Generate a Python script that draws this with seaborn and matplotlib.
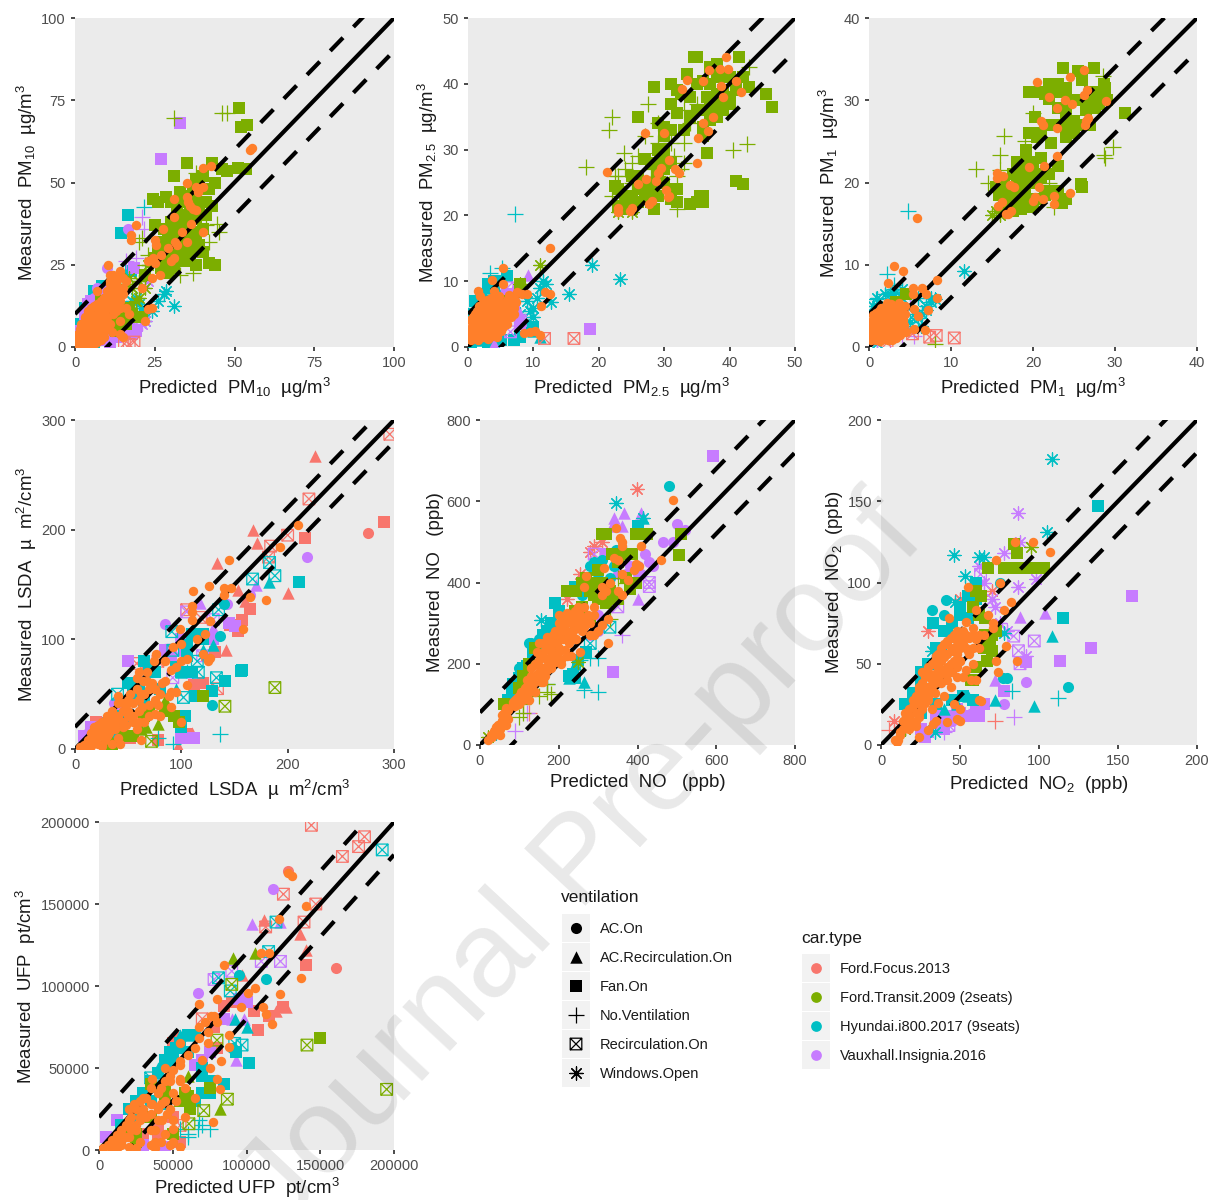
import matplotlib
matplotlib.use("Agg")
import matplotlib.pyplot as plt
import seaborn as sns
from matplotlib.patches import Rectangle
from matplotlib.path import Path

# car keys: R focus, T transit, C hyundai, V vauxhall. orange = highlighted points on top
car_labels = ["Ford.Focus.2013", "Ford.Transit.2009 (2seats)", "Hyundai.i800.2017 (9seats)", "Vauxhall.Insignia.2016"]
vent_labels = ["AC.On", "AC.Recirculation.On", "Fan.On", "No.Ventilation", "Recirculation.On", "Windows.Open"]

# ---- PM10
pm10_T_fan = [(51.5,72.5),(52,67),(54,67.5),(51,54.5),(53.5,54),(35,56),(43,56),(46,54),(47.5,53.5),(31,52),(38,51),(44,50),(42,48),(24.5,45),(26,44),(28.5,45.5),(30,44),(33,47),(35,46),(38,45),(41,44),(43,43),(25,37),(28,36),(30,38),(32,36),(34,37),(30,33),(33,31),(36,32),(39,31),(40,29),(30,28),(32,26),(34,26),(36,26),(38,25),(42,25.5),(44,25),(27,24),(29,22.5),(31,24),(28,30),(34,40),(36,41),(38,39),(40,36),(36,30),(12,12),(10,8),(15,9),(8,14),(7,10),(13,5),(14,10),(16,7),(17,12),(18,10),(15,12),(13,8),(20,9),(21,9),(9,6),(22,22),(25,27),(27,32),(29,35),(31,33),(33,40),(35,38),(37,35),(38,33),(26,30),(28,28),(30,36),(32,42),(34,44),(36,46),(39,42),(41,40),(37,30),(35,29),(33,28),(31,30),(29,26),(27,27),(35,35),(33,33),(39,48),(40,52),(37,49)]
pm10_T_plus = [(31,69.5),(46,71),(47.5,71),(44.5,37.5),(45,35),(42,32),(37,22.5),(23,28),(21,33),(20,32),(33,22),(37,28),(30,30),(26,27),(22,25),(40,41),(38,53),(41,37)]
pm10_T_ast = [(20,20),(17,21),(23,25),(19,14),(14,18),(16,19),(18,18),(13,16),(20,15),(22,18)]
pm10_C_plus = [(21.5,42.5),(9,18),(6,14)]
pm10_C_fan = [(16.5,40),(14.5,34.5),(17.5,23),(8.5,18.5),(6,14),(4,8),(5,10),(3,5),(2,3),(1,2),(0.5,3),(1,6),(2,7),(3,10),(4,12),(5,13),(7,16),(0.5,1),(2,1),(4,1),(6,1),(1,4),(3,12),(6,17)]
pm10_C_ast = [(31,12.5),(28,16),(28.5,17),(26,14),(20,13),(22,8),(19,15),(16,11),(5,2),(8,3),(3,1),(18,14),(17,9),(14,12),(12,7),(21,12),(24,11)]
pm10_C_tri = [(6,8),(3,4),(5,15),(3,7),(1,1.5),(2,5)]
pm10_V_plus = [(21,39.5),(21.5,36),(16,26),(19,27)]
pm10_V_fan = [(33,68),(27,57),(18.5,24),(7,14),(10,17),(2,5),(3,10),(4,13),(5,14),(9,2),(13,3),(16,6),(18,4),(11,1),(17,8),(19,5)]
pm10_V_ac = [(16.5,36),(10,24),(6,15),(4,9),(7,18)]
pm10_V_ast = [(21,7),(22,8),(18,6),(15,4),(23,20)]
pm10_R_box = [(15.5,1),(18.5,1.5),(17,0.8)]
pm10_orange = [(55.5,60.5),(55,60),(40,54.5),(42.5,55),(35,50),(38,48.5),(40,48.5),(38.5,47),(31,45),(35,45.5),(35.5,44),(36,43),(37,42),(38,41.5),(31,39.5),(19,37),(17.5,34),(17.5,32.5),(27.5,36),(25,32.5),(25.5,31),(33.5,35),(40,35),(36.5,37.5),(31.5,32),(32,31),(35,32),(29,30),(27,28),(24.5,27),(25,25.5),(23,26),(30,26),(31,27),(26.5,22),(24,21),(21,18),(10.5,25),(11,22),(14,22),(13,20),(11,19),(16,20),(13,18),(10,17),(15,16),(7,17),(9,15),(12,15),(14,14),(16,12),(11,12),(13,11),(24,12),(23,11.5),(22,8),(17,10),(14,8),(11.5,4.5),(14,4),(15,3),(1,1),(2,1.5),(3,2),(4,3),(5,4),(6,5),(7,6),(8,7),(9,8),(10,9),(2,4),(3,6),(4,7),(5,8),(6,9),(7,10),(4,1.5),(6,2),(7,3),(8,4),(9,5),(10,6),(11,7),(3,8),(4,10),(5,10),(8,11),(9,13),(10,14),(11,15),(12,10),(1,3),(0.5,0.5),(3,4),(5,6),(6,7),(8,9),(2,2.5),(4,5),(7,8),(9,10),(10,12),(12,13)]
pm10_orange_more = [(0.5,2),(1,4),(1.5,5.5),(2,7),(3,9),(4,11),(5,12),(6,12.5),(7,12),(8,12),(9,12),(1,0.5),(2,0.5),(3,0.5),(4,0.5),(5,1),(6,1),(7,1.5),(8,2),(9,3),(2,1),(3,1),(4,2),(5,2),(5,3),(6,3),(7,4),(8,5),(8,6),(9,6),(9,7),(10,7.5),(6,4),(4,4),(3,3),(2,3),(1,1.5),(1.5,2.5),(2.5,5),(3.5,5),(4.5,6),(5.5,7),(6.5,8),(7.5,9),(8.5,10),(9.5,11),(7,13),(8,14),(9,15),(10,15),(11,14),(12,14),(13,13),(13,15),(14,16),(12,16),(10,13),(11,13),(9,11),(11,17),(12,18),(13,19),(15,21),(14,23),(11,20),(12,22),(15,18),(14,12)]

# ---- PM2.5
pm25_T_fan = [(35,44),(34.5,44),(41.5,44),(38,43),(37,42.5),(33.5,41.5),(28.5,39.5),(31,40),(32,39),(32.5,38.5),(36,40.5),(36.5,38),(38,38.5),(39,41),(40,41),(41,40),(42,41),(43,39.5),(45.5,38.5),(46.5,36.5),(39,39),(40,38),(39,37),(37.5,36),(38,35),(37,34.5),(36,33.5),(31,37),(32,35.5),(26,35),(29,34),(30,33.5),(31,33),(36,32),(36.5,29.5),(27,28.5),(28,28),(30,30),(26,26),(27,25),(22.5,24.5),(23,24),(28,24),(29,23),(27.5,23),(32,22),(34,21.8),(35,22),(35.5,23),(36,23),(36,22),(28.5,21),(41,25.2),(42,24.8),(24,23),(25,22),(31,22.5),(8,9.5),(6,7),(26,24),(27,24),(28,25),(29,26),(30,27),(30,25),(31,28),(29,28),(25,26),(33,33),(34,35),(35,36),(36,36),(37,37),(38,37),(39,36),(40,37),(41,39),(34,38),(35,40),(37,40),(38,41),(25,23),(26,22),(27,22.5),(28,22),(24,21),(23,21.5),(25,21),(31,24),(32,24),(30,32),(29,30)]
pm25_T_plus = [(22,35),(21.5,33),(27.5,37),(18,27.3),(23.8,29.5),(24,27),(22.5,26),(23,24.5),(40.5,30),(42.7,30.8),(29,34),(33,31),(32.5,27),(32,26),(32,21),(34,34),(29,31),(43,42.5),(31.5,29),(23,26),(25,25),(26,29),(28,27),(30,29),(33,28),(31,31),(29,26),(22,23),(24,22),(33,36),(35,37),(27,32),(25,28)]
pm25_T_ast = [(11,12.5),(23,20.5),(25,20.5),(29,29.5),(8,9.5)]
pm25_C_plus = [(7.2,20.2),(3.3,11.2),(5.2,12),(2,5),(1,6)]
pm25_C_ast = [(19,12.4),(23.3,10.3),(15.5,8),(12.7,6.8),(11.5,10),(12,9.5),(10,6),(9.5,5.5),(10,4.5),(8,5),(9,7),(11,9),(10.5,7.5),(8.5,3.5)]
pm25_C_fan = [(6,10.8),(3,7),(4,9),(1,5),(2,4),(1,7),(2,8),(3,9.5),(4,10),(0.5,5),(1,3),(2,6),(5,10),(0.5,0.5),(5,1),(7,1),(3,0.5),(8,1.5),(10,3)]
pm25_C_tri = [(3,9),(5,8),(11,1.5),(9,3),(1,1.5),(2,1),(10,2.5),(5.5,9),(4,0.8)]
pm25_V_tri = [(9.2,11),(6,7),(8,5),(7,9),(4,0.5)]
pm25_V_fan = [(18.7,2.8),(6,8),(7,6),(8,3.5)]
pm25_V_box = [(6.5,2.3),(8,4),(6,9)]
pm25_R_box = [(11.7,1.3),(16.2,1.3)]
pm25_orange = [(39.5,44),(38.5,42.3),(39.7,42.2),(36.8,42.1),(33.5,40.6),(32.7,39.2),(36,40.5),(41,40.5),(38.7,39.7),(39,38),(41.7,38.7),(37.5,34.9),(36,34),(35.2,31.7),(36.7,32.9),(35,28),(27,32.5),(30,32.5),(21.3,26.6),(30.8,28.4),(29.5,27.2),(29,26.5),(27.2,25.5),(28.8,25.2),(26,24.7),(31.7,27),(32.3,26.5),(30.2,23.8),(30.8,23),(30.6,22.8),(28.2,22.2),(27.7,21.7),(23,21.2),(23,20.5),(25,21.2),(24.7,20.7),(12.5,15),(5.3,12),(3.7,10.2),(5.3,9.5),(1.5,8.5),(8.2,8),(11.7,8.4),(12.5,8),(11.2,6.2),(9,8),(7.5,8.3),(7,7.5),(6,7.2),(4,8.5),(3.5,7.5),(4.5,7),(2.5,6),(1,5),(3,5.5),(5,6),(6.5,5.8),(7,5),(5.5,4.8),(4,4.8),(2,4.5),(1,3.8),(3,3.8),(5,4),(6,3.5),(4,3),(2.5,3),(1,2.8),(0.5,2.2),(2,2),(3.5,2),(5,2.5),(4.5,1.5),(3,1.2),(1.5,1),(0.5,1),(8.5,2.2),(9.5,2.3),(10.3,2.4),(11,1.8),(6.5,4.5),(3,6.8),(1.8,7.8),(4.5,5.5),(2,3.5),(3.5,4.3),(5,3.2)]
pm25_orange_more = [(0.3,1.2),(0.4,2.9),(0.3,4.1),(0.8,1.6),(0.9,3.3),(0.7,4.6),(1.3,1.4),(1.4,2.4),(1.2,3.2),(1.3,4.4),(1.4,5.4),(1.8,1.6),(1.7,2.8),(1.9,3.9),(1.8,5.1),(1.7,6.2),(2.3,1.5),(2.4,2.6),(2.2,3.6),(2.3,4.6),(2.5,5.6),(2.3,6.7),(2.9,1.8),(2.8,2.7),(3,3.4),(2.8,4.5),(3,6.1),(2.9,7.2),(3.4,1.5),(3.5,2.7),(3.3,3.3),(3.4,5),(3.5,6.3),(3.9,2.4),(3.8,3.6),(4,4.2),(3.9,5.6),(4,6.6),(4.4,2.5),(4.3,3.7),(4.5,4.4),(4.4,6),(4.7,7.8),(4.9,3.5),(4.8,5),(4.9,6.7),(5.4,3),(5.3,4.3),(5.5,5.5),(5.4,6.5),(5.8,4.2),(5.9,5.2),(6.1,6.4),(6.4,5),(6.6,6.7),(7,6),(7.3,6.9),(6.2,7.9)]

# ---- PM1
pm1_T_fan = [(23.7,33.9),(25.5,33.5),(26,33),(27.4,33.9),(23,32),(24,31.5),(26,32.5),(28.7,32),(28.8,31.5),(19.5,31),(20.5,31),(21.5,30.8),(22,30.2),(24,31),(25,30),(27,31),(28,29.5),(27.5,29),(26.5,28.8),(24,28.5),(25,27.5),(26,27),(31.2,28.5),(20.3,28),(19.5,26),(20.5,25.5),(19.2,24),(24,25.5),(22.2,24.8),(23,22),(18,22.5),(19.5,22.5),(15.5,19.5),(16.5,20),(17.5,21),(18.5,20.5),(19,21),(17,19),(18,18.5),(19,17),(18.5,16.8),(20.5,18),(21.5,18.5),(23,18),(23.5,17.5),(25.8,19.8),(26,19.5),(17,17.5),(4.5,6.5),(3.3,5.5),(16,19),(15.8,18.5),(16.5,18),(17.5,18),(18,20),(19,19.5),(20,20),(21,20.5),(20,22),(20.5,21),(22,21),(21,23),(24,29),(25,30),(26,30),(27,30),(23,29),(24,27),(27,27),(25,26),(21,26),(22,27),(23,27),(26,33),(22,32),(23,31),(22.5,31.5),(28,31),(29,30),(16.5,17),(17.5,16.5),(19,18),(20,17),(22,19),(24,18),(23,19)]
pm1_T_plus = [(13,21.7),(16.5,25.7),(16,23.4),(14.5,20),(19,25),(20,28.5),(29.8,24.3),(28.7,23.3),(28.8,23),(28.5,33),(22.5,17),(22,20),(16,21.5),(8,0.4)]
pm1_T_ast = [(15,16),(15.5,16.5),(16,16)]
pm1_C_plus = [(4.8,16.5),(2.2,8.9),(0.8,5.8),(3,7.5)]
pm1_C_ast = [(11.6,9.3),(8,5.8),(7.5,5.5),(2.5,6.5),(3,6.5),(1,5),(6,3.5),(6.3,2.5),(7,5),(5.5,4),(4,7),(0.5,5),(1,6),(2,6.5),(3,7),(4,6),(5,6.5),(6,6),(1,0.5),(3,5),(7,4.5),(6.5,4),(7.5,6),(5,3),(4.5,2.5)]
pm1_R_box = [(10.4,1.1),(7.4,1.2),(8.2,1.4),(5.3,1.6),(2.2,0.5)]
pm1_V_plus = [(1,0.7),(4,1.5),(2.5,0.8),(5.5,1.3),(4,2),(5,6)]
pm1_orange = [(20.5,32.2),(24.5,32.8),(26.2,33.7),(22,30.4),(26.6,31.2),(26.2,30.6),(23.9,30),(24.8,29.5),(28.9,29.9),(22.9,29),(21,27.5),(21.2,27),(22.9,26.6),(26.5,27.5),(26.3,27),(26.7,27.8),(22.9,23.2),(19.5,21.9),(21.3,22),(15.6,21.2),(15.6,20.6),(16.3,20.8),(17.2,19.7),(17.7,19.4),(20.7,19.5),(20.2,18.2),(20,17.7),(21.2,18),(22.6,18.4),(22.6,17.4),(24.5,18.7),(15.7,17.2),(16.2,17.6),(16.7,16.2),(17,16.2),(17.3,16.5),(5.9,15.7),(3,9.8),(4.1,9.2),(2.3,7.8),(8.3,8.1),(5.4,7.2),(6.5,7.2),(5.4,6.4),(6.9,6.4),(8.3,6),(7.2,4.5),(5.5,4.6),(6,3.8),(5.5,2.2),(6.8,2.1),(2.2,5.4),(3,5),(4.4,5),(1.2,4.4),(2,4.2),(3,4),(4,4.2),(0.8,3.6),(1.6,3.4),(2.4,3.4),(3.2,3.2),(4.2,3.3),(0.5,2.8),(1.2,2.6),(2,2.6),(2.8,2.5),(3.6,2.4),(0.4,2),(1,1.8),(1.8,1.8),(2.6,1.7),(3.3,1.6),(0.5,1.2),(1.2,1),(2,1),(2.8,0.9),(3.6,2),(4.5,1.8)]
pm1_orange_more = [(0.3,0.8),(0.3,1.6),(0.3,2.4),(0.4,3.2),(0.5,3.9),(0.9,0.9),(0.8,1.4),(0.9,2.2),(0.8,3),(0.9,4.1),(1.4,0.7),(1.3,1.5),(1.4,2.1),(1.3,3),(1.4,3.8),(1.5,4.7),(1.9,1.4),(1.8,2.2),(1.9,3),(1.8,3.8),(2,4.7),(2.3,0.8),(2.4,1.4),(2.3,2.2),(2.4,3),(2.3,3.8),(2.5,4.5),(2.9,1.3),(2.8,2),(2.9,2.9),(2.8,3.6),(2.9,4.4),(3.3,1.1),(3.4,2.1),(3.3,2.8),(3.4,3.6),(3.5,4.5),(3.8,1.5),(3.9,2.7),(3.8,3.7),(3.9,4.7),(4.3,2.7),(4.4,4),(2.7,5.2),(3.6,5.4)]

# ---- LSDA
lsda_R_fan = [(291,207),(216,192),(165,128),(157,118),(153,108),(146,113),(105,14),(52,10),(78,8),(120,60),(112,58),(124,85),(132,88),(125,100),(100,15),(20,25),(30,5)]
lsda_R_tri = [(226,267),(167,200),(171,188),(134,170),(153,145),(200,142),(142,90),(110,15),(97,3),(160,135)]
lsda_R_box = [(296,287),(220,228),(200,195),(184,185),(182,175),(105,127),(118,120),(58,78),(134,55),(78,80)]
lsda_R_ac = [(276,197)]
lsda_V_ac = [(218,175),(143,132),(85,114),(165,140),(40,40),(12,15),(37,42),(90,88)]
lsda_V_fan = [(100,10),(108,10),(112,10),(145,115),(150,112),(15,15),(50,80),(100,100),(90,85),(105,90),(130,100),(85,90),(15,20),(10,10),(8,12)]
lsda_V_box = [(105,125),(130,118),(92,65),(120,85),(90,90),(60,60)]
lsda_V_tri = [(118,133),(170,150),(100,90),(110,70),(130,110)]
lsda_C_fan = [(211,152),(156,71),(157,72),(141,62),(129,53),(113,48),(103,30),(100,20),(65,80),(120,105),(40,30),(20,15),(70,75),(75,70),(60,60),(100,70),(110,70),(95,75),(105,95),(110,105),(115,105),(120,100),(50,60),(55,50),(65,45),(80,55),(45,30),(35,15),(105,85)]
lsda_C_box = [(167,155),(188,158),(183,170),(135,127),(133,65),(102,47),(92,90),(115,80),(116,70),(40,50),(91,107)]
lsda_C_ac = [(129,40),(136,103),(140,132),(60,55)]
lsda_C_tri = [(182,152),(130,95),(120,90),(105,72),(95,55),(100,70),(50,35)]
lsda_C_plus = [(136,14),(92,5),(78,10)]
lsda_T_box = [(188,56),(141,39),(72,7)]
lsda_T_fan = [(120,48),(93,30),(98,25),(35,5),(46,12),(55,12),(30,10),(65,30),(70,35),(85,35)]
lsda_T_tri = [(78,23),(67,20),(62,18),(85,45)]
lsda_orange = [(210,204),(193,184),(145,172),(111,144),(126,149),(140,147),(147,147),(140,140),(180,136),(165,139),(110,130),(110,125),(110,118),(127,117),(122,105),(115,100),(99,109),(100,96),(92,93),(158,109),(120,87),(125,80),(127,83),(76,87),(74,80),(85,80),(95,75),(100,80),(105,82),(90,72),(60,70),(58,65),(68,70),(64,62),(72,60),(82,60),(105,58),(90,52),(95,52),(62,50),(50,45),(40,48),(55,42),(63,38),(75,45),(78,40),(90,38),(80,30),(70,30),(60,35),(50,30),(45,35),(35,30),(40,28),(30,25),(25,20),(35,20),(32,15),(25,12),(20,10),(28,8),(18,6),(15,3),(25,3),(35,5),(40,10),(45,20),(55,25),(65,25),(100,25),(62,8),(42,5),(20,18),(30,18),(38,22),(48,22),(58,18)]
lsda_orange_more = [(10,3),(15,8),(20,14),(25,18),(30,22),(35,25),(40,30),(22,5),(30,12),(38,18),(45,25),(50,35),(55,30),(60,45),(65,50),(70,55),(70,40),(60,25),(45,42),(52,50),(30,30),(25,25),(35,35),(40,42),(48,40),(58,55),(68,62),(75,55),(85,62),(80,50),(75,32),(88,48),(15,15),(18,20),(12,8),(8,4),(5,2),(22,22)]

# ---- NO
no_T_fan = [(310,520),(320,520),(395,520),(405,520),(415,520),(425,520),(510,520),(505,468),(335,470),(340,470),(350,470),(360,470),(375,470),(385,470),(225,378),(245,378),(270,410),(280,400),(290,370),(300,360),(340,370),(380,385),(100,140),(60,100),(300,430),(310,400),(260,400),(280,380),(320,350),(330,380),(350,360),(370,410),(350,450),(395,400),(220,380),(240,330),(260,340),(280,310),(140,240),(125,200),(110,170)]
no_C_ac = [(480,638),(310,455),(360,480),(130,250),(125,250),(150,260),(340,440),(100,190),(120,200),(280,440),(330,410),(300,420),(260,370),(290,450),(345,480)]
no_V_ac = [(500,545),(520,530),(465,500),(490,500),(430,450),(440,440),(400,440),(410,420),(510,520),(300,280),(400,420),(420,470),(380,440),(330,380),(300,320),(310,300),(280,270),(290,280),(370,420),(320,360),(350,420)]
no_V_tri = [(340,560),(365,570),(335,540),(410,570),(400,360),(360,540)]
no_C_tri = [(265,155),(225,165),(415,560),(240,200)]
no_C_ast = [(345,595),(415,560),(155,308),(40,30)]
no_R_ast = [(398,630),(280,475),(290,490),(310,500),(255,420),(220,360)]
no_C_fan = [(190,350),(240,390),(400,540),(90,150),(80,120),(150,240),(70,110),(80,130),(85,150),(100,165),(110,190),(120,195),(135,230),(160,270),(170,280),(200,330),(180,300),(225,170),(235,175),(240,165),(250,210),(270,230)]
no_V_fan = [(592,712),(337,179),(320,470)]
no_V_plus = [(360,270),(90,35),(120,80)]
no_C_plus = [(300,130),(265,135),(300,215),(280,215),(255,210),(170,150)]
no_T_plus = [(170,130),(180,125),(110,80),(350,410),(370,400),(380,405),(330,310),(170,150),(150,120),(110,100),(100,70)]
no_R_plus = [(125,80)]
no_V_box = [(430,400),(430,390),(350,340),(290,470)]
no_C_box = [(330,290),(280,250)]
no_T_ast = [(250,205),(20,20)]
no_orange = [(490,602),(460,455),(345,535),(360,500),(355,510),(360,490),(410,490),(405,440),(395,445),(390,430),(350,455),(340,460),(315,435),(310,390),(360,420),(375,405),(270,415),(320,380),(265,390),(310,370),(330,400),(350,380),(360,370),(310,295),(290,340),(260,310),(240,330),(200,320),(210,310),(325,310),(300,280),(290,270),(325,250),(255,230),(20,12),(28,25),(35,30),(40,45),(48,50),(55,60),(60,72),(50,42),(65,50),(70,85),(90,110),(100,120),(85,105),(110,130),(120,160),(125,110),(135,165),(130,190),(145,200),(150,175),(155,220),(165,235),(170,185),(180,220),(185,250),(190,205),(200,240),(210,280),(215,235),(225,270),(230,300),(240,260),(250,290),(140,130),(160,155),(175,200),(195,270),(205,210),(220,220),(235,320),(250,325),(265,290),(280,300),(115,140),(150,250),(170,265)]
no_orange_more = [(30,20),(35,35),(40,30),(45,50),(50,40),(55,60),(60,55),(65,75),(60,80),(70,65),(50,25),(45,35),(55,75),(65,90),(85,100),(90,95),(95,115),(100,100),(105,130),(110,110),(115,125),(120,145),(125,130),(130,170),(135,150),(140,200),(140,170),(145,230),(150,210),(150,180),(155,155),(160,250),(160,220),(160,190),(165,170),(170,240),(170,210),(175,260),(180,235),(180,190),(185,270),(190,280),(190,220),(195,250),(200,300),(200,230),(205,290),(205,200),(210,260),(215,300),(220,325),(220,280),(225,250),(230,310),(230,220),(235,280),(240,310),(245,260),(250,340),(250,300),(255,320),(260,280),(265,340),(270,300),(275,320),(280,270),(290,320)]

# ---- NO2
no2_C_ast = [(108,176),(105,131),(46,117),(62,116),(65,116),(53,104),(47,88),(78,69),(32,58),(34,8)]
no2_V_ast = [(87,143),(88,125),(98,102),(87,97),(78,118),(92,55),(65,100),(72,85),(70,90),(75,75),(80,70),(62,110)]
no2_T_ast = [(95,122),(15,10)]
no2_R_ast = [(15,10),(8,15),(30,70),(50,90),(70,95)]
no2_C_fan = [(137.5,147),(115,78),(33,75),(60,90),(38,60),(25,45),(50,80),(42,70),(15,25),(20,32),(25,40),(30,50),(35,60),(40,70),(45,75),(50,85),(55,92),(60,100),(55,78),(25,20),(35,25),(45,28),(52,30),(58,28)]
no2_V_fan = [(159,92),(133,60),(113,52),(92,51),(78,33),(28,5),(40,10),(60,25),(35,18),(40,15),(45,18),(50,20),(55,18),(60,22),(38,12),(30,8),(25,10),(62,18),(48,22),(65,25)]
no2_C_ac = [(32,83),(40,80),(41,89),(118.5,36),(80,41),(77,41),(58,98),(75,100)]
no2_V_ac = [(92,39),(78,25),(55,18),(60,20),(45,15)]
no2_C_tri = [(97,24),(108,67),(72,28),(55,30),(20,30),(40,22),(25,42),(48,25)]
no2_V_tri = [(88,79),(104,81),(72,40)]
no2_V_box = [(63,105),(84,67),(87,58),(97,64),(88,50),(43,12)]
no2_V_plus = [(84,17),(40,8),(60,22)]
no2_C_plus = [(112,29),(83,33)]
no2_R_plus = [(72,15),(5,9)]
no2_T_fan = [(68,109),(78,109),(82,109),(86,109),(90,109),(94,109),(100,109),(103,109),(84,124),(86,118),(60,95),(63,92),(58,85),(62,80),(66,78),(70,68),(69,65),(57,40),(67,52),(73,70),(65,60),(70,58),(66,68),(60,48),(58,40)]
no2_orange = [(107,119),(85,125),(96,125),(73,114),(75,100),(55,97),(60,83),(82,88),(78,83),(68,80),(71,75),(71,72),(73,52),(74,45),(57,40),(86,52),(79,61),(50,15),(33,13),(43,78),(54,76),(58,72),(48,70),(52,65),(60,65),(65,68),(42,62),(46,60),(55,58),(62,60),(38,58),(35,55),(50,52),(44,50),(58,50),(30,48),(36,46),(42,44),(48,42),(54,46),(26,45),(32,40),(38,38),(44,36),(28,36),(34,32),(40,30),(24,34),(30,28),(36,26),(20,28),(26,24),(32,22),(18,22),(24,20),(16,18),(22,15),(14,15),(19,12),(12,8),(10,2),(11,3),(24,5),(30,9),(35,15),(42,14),(48,16),(46,25),(50,22),(62,28),(63,27),(45,45),(52,42),(60,40)]
no2_orange_more = [(9,3),(12,6),(14,10),(16,14),(15,20),(18,10),(18,18),(20,24),(20,14),(22,30),(22,20),(22,12),(24,36),(24,26),(24,17),(26,38),(26,30),(26,22),(28,42),(28,34),(28,26),(30,45),(30,36),(30,30),(32,50),(32,42),(32,34),(34,44),(34,52),(34,38),(36,56),(36,48),(36,40),(38,60),(38,52),(38,44),(40,62),(40,54),(40,46),(42,64),(42,56),(42,48),(42,40),(44,66),(44,58),(44,50),(46,60),(46,68),(46,52),(48,64),(48,56),(48,48),(50,68),(50,60),(50,52),(52,70),(52,62),(54,68),(54,60),(56,66),(56,56),(58,68),(58,60),(60,66),(62,68)]

# ---- UFP
ufp_R_box = [(144000,198000),(180000,191000),(176000,185000),(165000,179000),(125000,156000),(147000,150000),(139000,139000),(113000,136000),(70000,80000),(55000,15000)]
ufp_C_box = [(192000,183000),(120000,139000),(115000,121000),(89000,97000),(97000,64000),(92000,65000),(44000,44000),(35000,44000),(81000,105000)]
ufp_V_box = [(123000,115000),(110000,115000),(78000,104000),(90000,109000)]
ufp_T_box = [(195000,37000),(141000,64000),(87000,31000),(71000,24000),(61000,16000),(90000,101000),(80000,67000)]
ufp_T_fan = [(150000,68000),(62000,25000),(58000,35000),(50000,10000),(45000,38000),(25000,10000),(35000,40000),(45000,32000),(55000,30000),(60000,33000),(62000,28000),(75000,38000),(30000,20000),(20000,10000),(35000,20000),(25000,5000)]
ufp_R_fan = [(140000,113000),(108000,73000),(115000,82000),(125000,87000),(78000,75000),(40000,10000),(50000,65000),(55000,68000),(62000,70000),(80000,62000),(90000,90000),(85000,88000),(105000,85000),(30000,10000),(50000,20000),(55000,5000),(40000,15000)]
ufp_R_tri = [(112000,140000),(120000,85000),(127000,87000),(136000,132000),(140000,122000),(97000,107000)]
ufp_V_fan = [(75000,60000),(70000,55000),(65000,52000),(95000,92000),(100000,90000),(85000,80000),(12000,18000),(5000,8000),(30000,3000),(45000,2000)]
ufp_V_tri = [(104000,138000),(123000,139000),(93000,55000),(98000,80000),(90000,80000)]
ufp_T_tri = [(91000,117000),(106000,120000),(82000,25000),(60000,45000)]
ufp_C_tri = [(100000,75000),(55000,70000),(60000,70000),(92000,80000),(40000,50000)]
ufp_C_fan = [(102000,53000),(93000,60000),(70000,45000),(75000,35000),(45000,55000),(50000,60000),(35000,30000),(28000,20000),(15000,15000),(20000,25000),(25000,30000),(30000,35000),(35000,42000),(40000,47000),(45000,52000),(48000,60000),(52000,62000),(55000,65000),(60000,70000),(65000,70000),(50000,55000),(60000,60000),(70000,50000),(75000,42000),(70000,35000),(65000,30000),(55000,30000),(45000,28000),(85000,40000)]
ufp_R_ac = [(161000,111000),(128000,170000)]
ufp_V_ac = [(118000,159000),(67000,96000)]
ufp_C_ac = [(113000,104000),(95000,107000),(90000,62000)]
ufp_C_plus = [(67000,13000),(60000,10000),(70000,15000),(60000,8000),(55000,13000),(68000,18000),(75000,13000)]
ufp_orange = [(128000,169000),(131000,167000),(122000,141000),(140000,149000),(137000,105000),(123000,95000),(110000,120000),(115000,120000),(85000,113000),(68000,89000),(96000,87000),(80000,92000),(101000,96000),(106000,99000),(111000,87000),(113000,83000),(117000,77000),(76000,82000),(80000,78000),(68000,75000),(74000,72000),(88000,70000),(74000,65000),(55000,65000),(88000,63000),(83000,54000),(55000,54000),(50000,49000),(45000,50000),(80000,43000),(82000,37000),(55000,43000),(48000,42000),(77000,17000),(50000,13000),(35000,38000),(45000,42000),(40000,35000),(30000,32000),(35000,28000),(45000,30000),(52000,30000),(25000,25000),(30000,25000),(40000,25000),(48000,25000),(22000,20000),(28000,18000),(35000,12000),(38000,12000),(20000,14000),(25000,12000),(15000,10000),(20000,8000),(28000,5000),(35000,3000),(42000,5000),(48000,3000),(10000,5000),(15000,3000),(20000,2000),(8000,2000),(12000,1000),(25000,1000),(38000,1000),(58000,20000),(65000,32000),(75000,50000),(70000,55000),(32000,20000),(43000,18000)]
ufp_orange_more = [(3000,1000),(6000,3000),(9000,6000),(12000,9000),(15000,12000),(18000,15000),(20000,18000),(8000,1000),(12000,2000),(15000,5000),(18000,8000),(22000,12000),(25000,15000),(28000,20000),(20000,25000),(24000,28000),(28000,30000),(32000,32000),(30000,22000),(36000,28000),(42000,28000),(46000,22000),(50000,18000),(35000,22000),(40000,18000),(45000,10000),(50000,5000),(38000,5000),(55000,2000),(36000,43000),(42000,38000),(48000,45000),(55000,42000),(58000,38000),(50000,35000),(55000,52000),(60000,58000),(65000,62000),(68000,68000),(72000,78000),(78000,82000)]

panels = [
    dict(pos=(75, 18, 394, 347), lim=100, band=10, ticks=[0, 25, 50, 75, 100],
         xlabel="Predicted  PM$_{10}$  µg/m$^3$", ylabel="Measured  PM$_{10}$  µg/m$^3$",
         groups=[("C", "ast", pm10_C_ast), ("C", "tri", pm10_C_tri), ("C", "plus", pm10_C_plus), ("C", "fan", pm10_C_fan),
                 ("V", "plus", pm10_V_plus), ("V", "ast", pm10_V_ast), ("V", "ac", pm10_V_ac), ("V", "fan", pm10_V_fan),
                 ("R", "box", pm10_R_box), ("T", "ast", pm10_T_ast), ("T", "plus", pm10_T_plus), ("T", "fan", pm10_T_fan)],
         orange=pm10_orange + pm10_orange_more),
    dict(pos=(468, 18, 795, 347), lim=50, band=5, ticks=[0, 10, 20, 30, 40, 50],
         xlabel="Predicted  PM$_{2.5}$  µg/m$^3$", ylabel="Measured  PM$_{2.5}$  µg/m$^3$",
         groups=[("C", "ast", pm25_C_ast), ("C", "tri", pm25_C_tri), ("C", "plus", pm25_C_plus), ("C", "fan", pm25_C_fan),
                 ("V", "tri", pm25_V_tri), ("V", "fan", pm25_V_fan), ("V", "box", pm25_V_box), ("R", "box", pm25_R_box),
                 ("T", "ast", pm25_T_ast), ("T", "plus", pm25_T_plus), ("T", "fan", pm25_T_fan)],
         orange=pm25_orange + pm25_orange_more),
    dict(pos=(869, 18, 1197, 347), lim=40, band=4, ticks=[0, 10, 20, 30, 40],
         xlabel="Predicted  PM$_1$  µg/m$^3$", ylabel="Measured  PM$_1$  µg/m$^3$",
         groups=[("C", "ast", pm1_C_ast), ("C", "plus", pm1_C_plus), ("V", "plus", pm1_V_plus), ("R", "box", pm1_R_box),
                 ("T", "ast", pm1_T_ast), ("T", "plus", pm1_T_plus), ("T", "fan", pm1_T_fan)],
         orange=pm1_orange + pm1_orange_more),
    dict(pos=(75, 420, 394, 749), lim=300, band=20, ticks=[0, 100, 200, 300],
         xlabel="Predicted  LSDA  µ  m$^2$/cm$^3$", ylabel="Measured  LSDA  µ  m$^2$/cm$^3$",
         groups=[("R", "fan", lsda_R_fan), ("R", "tri", lsda_R_tri), ("R", "ac", lsda_R_ac), ("R", "box", lsda_R_box),
                 ("V", "ac", lsda_V_ac), ("V", "fan", lsda_V_fan), ("V", "box", lsda_V_box), ("V", "tri", lsda_V_tri),
                 ("C", "fan", lsda_C_fan), ("C", "ac", lsda_C_ac), ("C", "tri", lsda_C_tri), ("C", "box", lsda_C_box),
                 ("C", "plus", lsda_C_plus), ("T", "box", lsda_T_box), ("T", "fan", lsda_T_fan), ("T", "tri", lsda_T_tri)],
         orange=lsda_orange + lsda_orange_more),
    dict(pos=(480, 420, 795, 745), lim=800, band=80, ticks=[0, 200, 400, 600, 800],
         xlabel="Predicted  NO   (ppb)", ylabel="Measured  NO   (ppb)",
         groups=[("R", "ast", no_R_ast), ("R", "plus", no_R_plus), ("V", "ac", no_V_ac), ("V", "tri", no_V_tri),
                 ("V", "fan", no_V_fan), ("V", "plus", no_V_plus), ("V", "box", no_V_box), ("C", "ac", no_C_ac),
                 ("C", "tri", no_C_tri), ("C", "ast", no_C_ast), ("C", "fan", no_C_fan), ("C", "plus", no_C_plus),
                 ("C", "box", no_C_box), ("T", "plus", no_T_plus), ("T", "ast", no_T_ast), ("T", "fan", no_T_fan)],
         orange=no_orange + no_orange_more),
    dict(pos=(881, 420, 1197, 745), lim=200, band=20, ticks=[0, 50, 100, 150, 200],
         xlabel="Predicted  NO$_2$  (ppb)", ylabel="Measured  NO$_2$  (ppb)",
         groups=[("R", "plus", no2_R_plus), ("R", "ast", no2_R_ast), ("V", "ast", no2_V_ast), ("V", "fan", no2_V_fan),
                 ("V", "ac", no2_V_ac), ("V", "tri", no2_V_tri), ("V", "box", no2_V_box), ("V", "plus", no2_V_plus),
                 ("C", "ast", no2_C_ast), ("C", "fan", no2_C_fan), ("C", "ac", no2_C_ac), ("C", "tri", no2_C_tri),
                 ("C", "plus", no2_C_plus), ("T", "ast", no2_T_ast), ("T", "fan", no2_T_fan)],
         orange=no2_orange + no2_orange_more),
    dict(pos=(99, 822, 394, 1150), lim=200000, band=20000, ticks=[0, 50000, 100000, 150000, 200000],
         xlabel="Predicted UFP  pt/cm$^3$", ylabel="Measured  UFP  pt/cm$^3$",
         groups=[("R", "box", ufp_R_box), ("R", "fan", ufp_R_fan), ("R", "tri", ufp_R_tri), ("R", "ac", ufp_R_ac),
                 ("V", "box", ufp_V_box), ("V", "fan", ufp_V_fan), ("V", "tri", ufp_V_tri), ("V", "ac", ufp_V_ac),
                 ("C", "fan", ufp_C_fan), ("C", "tri", ufp_C_tri), ("C", "ac", ufp_C_ac), ("C", "box", ufp_C_box),
                 ("C", "plus", ufp_C_plus), ("T", "fan", ufp_T_fan), ("T", "tri", ufp_T_tri), ("T", "box", ufp_T_box)],
         orange=ufp_orange + ufp_orange_more, xpad=2),
]

sns.set_theme(style="ticks", rc={
    "axes.facecolor": "#EBEBEB",
    "axes.spines.left": False, "axes.spines.right": False,
    "axes.spines.top": False, "axes.spines.bottom": False,
    "xtick.color": "#333333", "ytick.color": "#333333",
    "xtick.labelcolor": "#4D4D4D", "ytick.labelcolor": "#4D4D4D",
    "xtick.major.size": 3, "ytick.major.size": 3,
    "xtick.labelsize": 10.5, "ytick.labelsize": 10.5,
    "axes.labelsize": 13.4, "axes.labelcolor": "#1A1A1A",
})
plt.rcParams["font.family"] = ["Liberation Sans", "DejaVu Sans"]
plt.rcParams["mathtext.fontset"] = "custom"
plt.rcParams["mathtext.rm"] = "Liberation Sans"
plt.rcParams["mathtext.default"] = "regular"

W, H = 1212, 1200
car_colors = {"R": "#F8766D", "T": "#7CAE00", "C": "#00BFC4", "V": "#C77CFF"}
box_verts = [(-1, -1), (1, -1), (1, 1), (-1, 1), (-1, -1), (1, 1), (-1, 1), (1, -1)]
box_codes = [Path.MOVETO, Path.LINETO, Path.LINETO, Path.LINETO, Path.LINETO, Path.LINETO, Path.MOVETO, Path.LINETO]
box_marker = Path(box_verts, box_codes)
vent_styles = {
    "ac": dict(marker="o", s=64, linewidth=0),
    "tri": dict(marker="^", s=80, linewidth=0),
    "fan": dict(marker="s", s=64, linewidth=0),
    "plus": dict(marker="+", s=140, linewidth=0.9),
    "box": dict(marker=box_marker, s=70, linewidth=0.9, facecolor="none"),
    "ast": dict(marker=(8, 2, 0), s=90, linewidth=0.9),
}


def draw_group(ax, color, vent, pts, zorder=2):
    style = dict(vent_styles[vent])
    if vent == "box":
        style["edgecolor"] = color
    sns.scatterplot(x=[p[0] for p in pts], y=[p[1] for p in pts], color=color,
                    ax=ax, legend=False, zorder=zorder, **style)


fig = plt.figure(figsize=(W / 100, H / 100), dpi=100)

for p in panels:
    l, t, r, b = p["pos"]
    ax = fig.add_axes([l / W, 1 - b / H, (r - l) / W, (b - t) / H])
    for car, vent, pts in p["groups"]:
        draw_group(ax, car_colors[car], vent, pts)
    lim, band = p["lim"], p["band"]
    sns.lineplot(x=[0, lim], y=[0, lim], color="black", linewidth=3, ax=ax, zorder=3)
    for off in (band, -band):
        sns.lineplot(x=[0, lim], y=[off, lim + off], color="black", linewidth=3,
                     linestyle=(0, (4.4, 3.6)), ax=ax, zorder=3)
    sns.scatterplot(x=[q[0] for q in p["orange"]], y=[q[1] for q in p["orange"]],
                    color="#FF7F2A", s=46, linewidth=0, ax=ax, legend=False, zorder=4)
    ax.set_xlim(0, lim)
    ax.set_ylim(0, lim)
    ax.set_xticks(p["ticks"])
    ax.set_yticks(p["ticks"])
    ax.set_xlabel(p["xlabel"], labelpad=p.get("xpad", 4))
    ax.set_ylabel(p["ylabel"], labelpad=2)

# legends, in figure pixels
leg = fig.add_axes([0, 0, 1, 1], zorder=-1)
leg.set_xlim(0, W)
leg.set_ylim(H, 0)
leg.axis("off")
leg.text(561, 897, "ventilation", fontsize=12.5, color="#1A1A1A", va="center")
vent_keys = ["ac", "tri", "fan", "plus", "box", "ast"]
for i, (lab, key) in enumerate(zip(vent_labels, vent_keys)):
    yc = 928 + i * 29
    leg.add_patch(Rectangle((562, yc - 14), 27.5, 28, color="#F2F2F2", lw=0))
    style = dict(vent_styles[key])
    if key == "box":
        style["edgecolor"] = "black"
    sns.scatterplot(x=[576], y=[yc], color="black", ax=leg, legend=False, **style)
    leg.text(600, yc + 1, lab, fontsize=10.5, color="#1A1A1A", va="center")
leg.text(801, 938, "car.type", fontsize=12.5, color="#1A1A1A", va="center")
for i, (lab, key) in enumerate(zip(car_labels, ["R", "T", "C", "V"])):
    yc = 968 + i * 29
    leg.add_patch(Rectangle((802, yc - 14), 27.5, 28, color="#F2F2F2", lw=0))
    sns.scatterplot(x=[816], y=[yc], color=car_colors[key], s=60, linewidth=0, ax=leg, legend=False)
    leg.text(840, yc + 1, lab, fontsize=10.5, color="#1A1A1A", va="center")
leg.set_xlim(0, W)
leg.set_ylim(H, 0)
leg.set_xlabel("")
leg.set_ylabel("")

# watermark
fig.text(581 / W, 1 - 864 / H, "Journal Pre-proof", fontsize=88, color="black", alpha=0.09,
         rotation=47, ha="center", va="center", zorder=10)

fig.savefig("out.png", dpi=100)
